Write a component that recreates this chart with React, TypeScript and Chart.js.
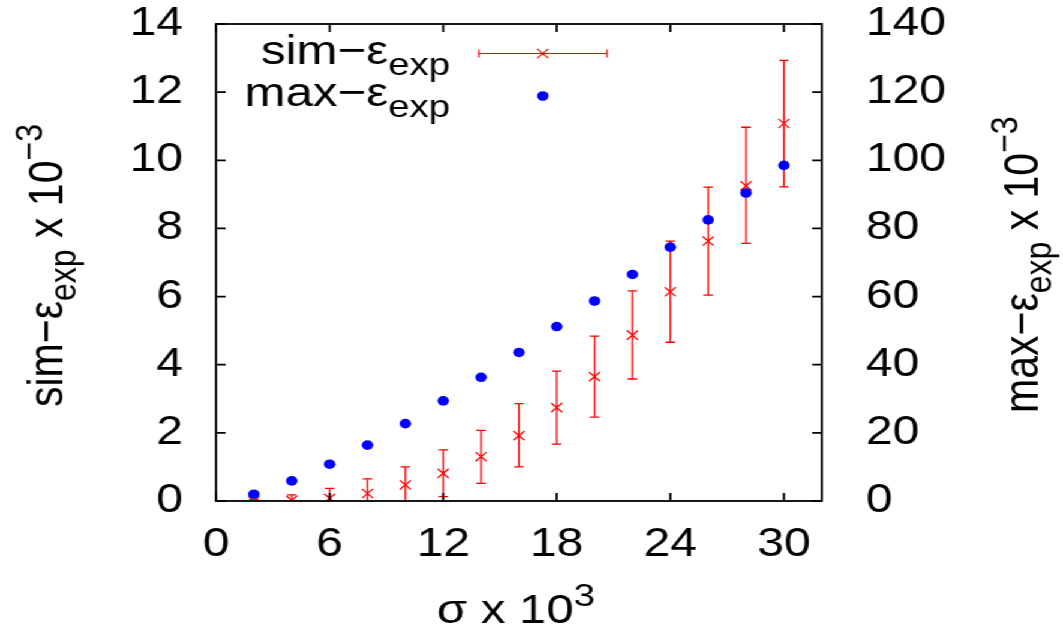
import React, { useEffect, useRef } from "react";
import { Chart, registerables } from "chart.js";

Chart.register(...registerables);

// ---- data ----
const SIGMA = [2, 4, 6, 8, 10, 12, 14, 16, 18, 20, 22, 24, 26, 28, 30];
const SIM_VALUES = [0.0, 0.02, 0.08, 0.22, 0.47, 0.81, 1.3, 1.92, 2.74, 3.65, 4.87, 6.14, 7.63, 9.25, 11.08];
const SIM_LOW = [-0.05, -0.14, -0.21, -0.21, -0.06, 0.13, 0.52, 1.0, 1.67, 2.46, 3.58, 4.66, 6.04, 7.56, 9.22];
const SIM_HIGH = [0.05, 0.18, 0.37, 0.65, 1.0, 1.5, 2.07, 2.86, 3.81, 4.84, 6.17, 7.63, 9.21, 10.97, 12.93];
const MAX_VALUES = [2.0, 5.9, 10.8, 16.4, 22.7, 29.4, 36.3, 43.6, 51.2, 58.7, 66.5, 74.5, 82.5, 90.4, 98.5];
const X_TICKS = [0, 6, 12, 18, 24, 30];
const LEFT_TICKS = [0, 2, 4, 6, 8, 10, 12, 14];
const RIGHT_TICKS = [0, 20, 40, 60, 80, 100, 120, 140];

const STRETCH = 1.2;
const W = Math.round(1063 / STRETCH);
const H = 630;
const FONT = '"Liberation Sans", Arial, Helvetica, sans-serif';
const TICK = 40;
const MAIN = 41;
const SMALL = 32;
const DOT_R = 4.8;

type Part = { t: string; s: number; d: number };

function drawRich(ctx: CanvasRenderingContext2D, parts: Part[], x: number, y: number, align: "left" | "right" | "center") {
  let total = 0;
  const widths = parts.map((p) => {
    ctx.font = `${p.s}px ${FONT}`;
    const w = ctx.measureText(p.t).width;
    total += w;
    return w;
  });
  let cx = align === "left" ? x : align === "right" ? x - total : x - total / 2;
  ctx.textAlign = "left";
  ctx.textBaseline = "alphabetic";
  ctx.fillStyle = "#000";
  parts.forEach((p, i) => {
    ctx.font = `${p.s}px ${FONT}`;
    ctx.fillText(p.t, cx, y + p.d);
    cx += widths[i];
  });
}

const errorBarPlugin = {
  id: "errorBars",
  beforeDatasetsDraw(chart: any) {
    const { ctx, chartArea } = chart;
    const xs = chart.scales.x;
    const ys = chart.scales.y;
    ctx.save();
    ctx.beginPath();
    ctx.rect(chartArea.left, chartArea.top, chartArea.right - chartArea.left, chartArea.bottom - chartArea.top);
    ctx.clip();
    ctx.strokeStyle = "#ff0000";
    ctx.lineWidth = 1.3;
    SIGMA.forEach((s, i) => {
      const px = xs.getPixelForValue(s);
      const lo = ys.getPixelForValue(SIM_LOW[i]);
      const hi = ys.getPixelForValue(SIM_HIGH[i]);
      ctx.beginPath();
      ctx.moveTo(px, lo);
      ctx.lineTo(px, hi);
      ctx.moveTo(px - 4, lo);
      ctx.lineTo(px + 4, lo);
      ctx.moveTo(px - 4, hi);
      ctx.lineTo(px + 4, hi);
      ctx.stroke();
    });
    ctx.restore();
  },
};

const framePlugin = {
  id: "frameAndText",
  afterDraw(chart: any) {
    const { ctx, chartArea } = chart;
    const { left, right, top, bottom } = chartArea;
    const xs = chart.scales.x;
    const ys = chart.scales.y;
    const y1 = chart.scales.y1;
    ctx.save();
    ctx.strokeStyle = "#000";
    ctx.lineWidth = 1.8;
    ctx.strokeRect(left, top, right - left, bottom - top);
    const TL = 8;
    ctx.beginPath();
    X_TICKS.forEach((v) => {
      const px = xs.getPixelForValue(v);
      ctx.moveTo(px, bottom);
      ctx.lineTo(px, bottom - TL);
      ctx.moveTo(px, top);
      ctx.lineTo(px, top + TL);
    });
    LEFT_TICKS.forEach((v) => {
      const py = ys.getPixelForValue(v);
      ctx.moveTo(left, py);
      ctx.lineTo(left + TL, py);
    });
    RIGHT_TICKS.forEach((v) => {
      const py = y1.getPixelForValue(v);
      ctx.moveTo(right, py);
      ctx.lineTo(right - TL, py);
    });
    ctx.stroke();

    // axis titles
    ctx.save();
    ctx.translate(51.7, 407);
    ctx.rotate(-Math.PI / 2);
    drawRich(ctx, [
      { t: "sim\u2212\u03b5", s: MAIN, d: 0 },
      { t: "exp", s: SMALL, d: 11 },
      { t: " x 10", s: MAIN, d: 0 },
      { t: "\u22123", s: SMALL, d: -17 },
    ], 0, 0, "left");
    ctx.restore();

    ctx.save();
    ctx.translate(865, 413);
    ctx.rotate(-Math.PI / 2);
    drawRich(ctx, [
      { t: "max\u2212\u03b5", s: MAIN, d: 0 },
      { t: "exp", s: SMALL, d: 11 },
      { t: " x 10", s: MAIN, d: 0 },
      { t: "\u22123", s: SMALL, d: -17 },
    ], 0, 0, "left");
    ctx.restore();

    drawRich(ctx, [
      { t: "\u03c3 x 10", s: MAIN, d: 0 },
      { t: "3", s: SMALL, d: -17 },
    ], 430, 623, "center");

    // legend
    drawRich(ctx, [
      { t: "sim\u2212\u03b5", s: MAIN, d: 0 },
      { t: "exp", s: SMALL, d: 11 },
    ], 375, 64, "right");
    drawRich(ctx, [
      { t: "max\u2212\u03b5", s: MAIN, d: 0 },
      { t: "exp", s: SMALL, d: 11 },
    ], 375, 106, "right");

    const ly = 53.5;
    const lx0 = 399;
    const lx1 = 506;
    const lc = 452.5;
    ctx.strokeStyle = "#ff0000";
    ctx.lineWidth = 1.2;
    ctx.beginPath();
    ctx.moveTo(lx0, ly);
    ctx.lineTo(lx1, ly);
    ctx.moveTo(lx0, ly - 4);
    ctx.lineTo(lx0, ly + 4);
    ctx.moveTo(lx1, ly - 4);
    ctx.lineTo(lx1, ly + 4);
    const r = 6.5 * Math.SQRT1_2;
    ctx.moveTo(lc - r, ly - r);
    ctx.lineTo(lc + r, ly + r);
    ctx.moveTo(lc - r, ly + r);
    ctx.lineTo(lc + r, ly - r);
    ctx.stroke();
    ctx.fillStyle = "#0000ff";
    ctx.beginPath();
    ctx.arc(lc, 96, DOT_R, 0, Math.PI * 2);
    ctx.fill();
    ctx.restore();
  },
};

function zeroPad(s: any) {
  s.paddingTop = 0;
  s.paddingBottom = 0;
  s.paddingLeft = 0;
  s.paddingRight = 0;
}

export default function App() {
  const ref = useRef<HTMLCanvasElement | null>(null);
  useEffect(() => {
    if (!ref.current) return;
    const tickFont = { family: FONT, size: TICK };
    const chart = new Chart(ref.current, {
      type: "scatter",
      data: {
        datasets: [
          {
            label: "max",
            data: SIGMA.map((s, i) => ({ x: s, y: MAX_VALUES[i] })),
            yAxisID: "y1",
            showLine: false,
            pointStyle: "circle",
            pointRadius: DOT_R,
            pointBackgroundColor: "#0000ff",
            pointBorderColor: "#0000ff",
            pointBorderWidth: 0,
            order: 0,
          },
          {
            label: "sim",
            data: SIGMA.map((s, i) => ({ x: s, y: SIM_VALUES[i] })),
            yAxisID: "y",
            showLine: false,
            pointStyle: "crossRot",
            pointRadius: 6.5,
            pointBorderColor: "#ff0000",
            pointBorderWidth: 1.3,
            order: 1,
          },
        ],
      },
      options: {
        responsive: false,
        animation: false,
        devicePixelRatio: 1,
        layout: { autoPadding: false, padding: { top: 24, left: 0, right: 0, bottom: 0 } },
        plugins: { legend: { display: false }, tooltip: { enabled: false }, title: { display: false } },
        scales: {
          x: {
            type: "linear",
            position: "bottom",
            min: 0,
            max: 32,
            grid: { display: false, drawTicks: false },
            border: { display: false },
            ticks: { font: tickFont, color: "#000", padding: 20, maxRotation: 0 },
            afterBuildTicks: (s: any) => { s.ticks = X_TICKS.map((v) => ({ value: v })); },
            afterFit: (s: any) => { s.height = H - 501; zeroPad(s); },
          },
          y: {
            type: "linear",
            position: "left",
            min: 0,
            max: 14,
            grid: { display: false, drawTicks: false },
            border: { display: false },
            ticks: { font: tickFont, color: "#000", padding: 27.5 },
            afterBuildTicks: (s: any) => { s.ticks = LEFT_TICKS.map((v) => ({ value: v })); },
            afterFit: (s: any) => { s.width = 180; zeroPad(s); },
          },
          y1: {
            type: "linear",
            position: "right",
            min: 0,
            max: 140,
            grid: { display: false, drawTicks: false },
            border: { display: false },
            ticks: { font: tickFont, color: "#000", padding: 36.7 },
            afterBuildTicks: (s: any) => { s.ticks = RIGHT_TICKS.map((v) => ({ value: v })); },
            afterFit: (s: any) => { s.width = W - 685; zeroPad(s); },
          },
        },
      },
      plugins: [errorBarPlugin, framePlugin],
    } as any);
    return () => chart.destroy();
  }, []);
  return (
    <div
      style={{
        position: "fixed",
        left: 0,
        top: 0,
        width: W,
        height: H,
        background: "#fff",
        transform: `scaleX(${1063 / W})`,
        transformOrigin: "0 0",
      }}
    >
      <canvas ref={ref} width={W} height={H} style={{ display: "block" }} />
    </div>
  );
}
